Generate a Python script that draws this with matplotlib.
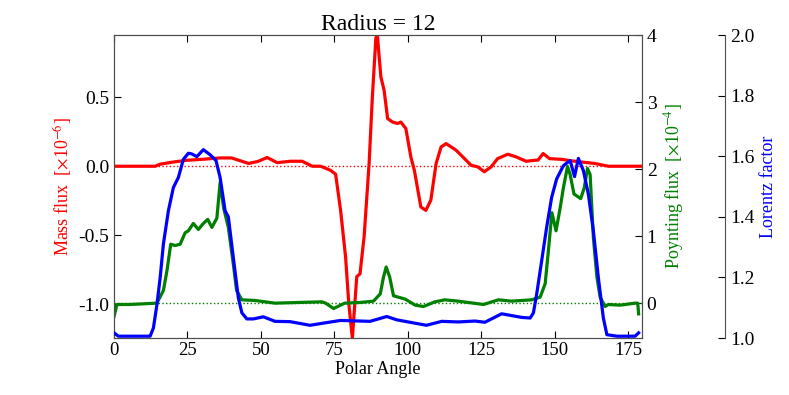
import numpy as np
import matplotlib
matplotlib.use("Agg")
import matplotlib.pyplot as plt

plt.rcParams['font.family'] = 'serif'
plt.rcParams['font.serif'] = ['Liberation Serif', 'DejaVu Serif']
plt.rcParams['mathtext.fontset'] = 'stix'

# mass flux (x1e-6) vs polar angle
mass_x = [0, 5, 10, 14, 15.7, 20, 24.8, 30, 36, 40, 45.8, 49, 52.1, 55.5, 60, 64,
          67.5, 70.3, 73.7, 75.4, 77.1, 78.8, 79.9, 81.1, 82.6, 83.7, 85.1, 86.8,
          87.9, 89.1, 89.6, 90.8, 91.9, 93.1, 94.8, 96.5, 97.6, 99.3, 101, 102.2,
          104.4, 106.1, 107.8, 109.6, 111.3, 113, 116.4, 118.7, 121.5, 123.8, 126,
          128.3, 130.5, 134, 136.8, 140.2, 143.1, 144.3, 146, 148.2, 152.2, 156.8,
          163.6, 168.2, 173, 179.6]
mass_y = [0.0, 0.0, 0.0, 0.0, 0.015, 0.03, 0.043, 0.05, 0.06, 0.06, 0.02, 0.035,
          0.063, 0.026, 0.036, 0.036, 0.0, 0.0, -0.03, -0.058, -0.32, -0.66, -1.0,
          -1.245, -0.80, -0.78, -0.51, 0.02, 0.50, 0.93, 0.95, 0.647, 0.55, 0.345,
          0.32, 0.31, 0.32, 0.273, 0.067, -0.03, -0.295, -0.32, -0.246, 0.02, 0.14,
          0.164, 0.116, 0.067, 0.007, -0.005, -0.04, -0.005, 0.055, 0.087, 0.068,
          0.036, 0.043, 0.045, 0.092, 0.055, 0.05, 0.036, 0.02, 0.0, 0.0, 0.0]

# poynting flux (x1e-4)
poy_x = [0, 1, 5, 10, 14.6, 16.8, 18, 19.3, 20.8, 22.5, 24.2, 25.3, 27, 28.7, 30.4,
         31.9, 33.3, 35, 36.1, 37.3, 38.9, 40.6, 41.7, 43.5, 48, 54.8, 62.7, 70.7,
         72, 74.7, 78.5, 83.7, 88.3, 90.6, 91.7, 92.6, 93.8, 95.1, 99.1, 102.5,
         105.3, 109.2, 112.6, 117.1, 125.7, 130.8, 135.3, 142.1, 145, 146.7, 147.9,
         149, 150.4, 151.8, 152.9, 154.3, 155.2, 156.5, 158.8, 160, 161.1, 162,
         163.1, 164.3, 165.4, 167.1, 168.2, 172.2, 177.3, 178.2, 178.5]
poy_y = [-0.2, -0.02, -0.02, -0.01, 0.0, 0.19, 0.48, 0.88, 0.86, 0.88, 1.05, 1.08,
         1.19, 1.10, 1.19, 1.25, 1.13, 1.27, 1.80, 1.42, 1.13, 0.58, 0.19, 0.05,
         0.04, 0.0, 0.01, 0.02, 0.0, -0.08, 0.0, 0.01, 0.03, 0.14, 0.39, 0.54, 0.39,
         0.11, 0.06, -0.03, -0.05, 0.02, 0.05, 0.03, -0.02, 0.05, 0.03, 0.05, 0.09,
         0.29, 0.83, 1.35, 1.08, 1.42, 1.72, 2.04, 1.92, 1.63, 1.56, 1.72, 2.01,
         1.92, 0.98, 0.39, 0.09, -0.05, -0.02, -0.03, 0.0, 0.0, -0.16]

# lorentz factor
lor_x = [0, 1.5, 5, 10, 12.3, 13.4, 14.6, 15.7, 16.8, 18.5, 20.2, 21.9, 23.6, 25.3,
         26.4, 28.2, 30.4, 32.7, 34.7, 36.1, 37.8, 38.9, 40.6, 42.3, 43.5, 45.2,
         47.4, 50.8, 54.8, 59.9, 66.7, 71.8, 77.1, 87.1, 92.8, 96.2, 101.8, 106.3,
         111.5, 117.2, 122.8, 126.2, 131.9, 138.7, 141.6, 142.7, 143.8, 145.5,
         147.2, 148.9, 150.6, 152.9, 155.2, 156.7, 158, 159.7, 161.4, 163.1, 164.8,
         166.5, 167.7, 171.1, 177.3, 178.5]
lor_y = [1.017, 1.006, 1.006, 1.006, 1.006, 1.033, 1.11, 1.199, 1.31, 1.42, 1.497,
         1.53, 1.59, 1.61, 1.608, 1.599, 1.622, 1.605, 1.586, 1.53, 1.42, 1.40,
         1.265, 1.133, 1.083, 1.063, 1.063, 1.07, 1.055, 1.054, 1.042, 1.05, 1.058,
         1.055, 1.071, 1.06, 1.05, 1.042, 1.055, 1.053, 1.056, 1.052, 1.08, 1.068,
         1.066, 1.083, 1.144, 1.254, 1.365, 1.464, 1.525, 1.569, 1.586, 1.533,
         1.593, 1.553, 1.475, 1.354, 1.199, 1.066, 1.011, 1.006, 1.006, 1.017]

fig = plt.figure(figsize=(7.89, 3.95), dpi=100)
ax = fig.add_axes([0.1445, 0.1443, 0.669, 0.7667])
ax2 = ax.twinx()
ax3 = ax.twinx()
ax3.spines['right'].set_position(('axes', 1.158))

ax.plot(mass_x, mass_y, color='r', lw=2.3)
ax.axhline(0, color='r', ls=':', lw=1)
ax2.plot(poy_x, poy_y, color='g', lw=2.3)
ax2.axhline(0, color='g', ls=':', lw=1)
ax3.plot(lor_x, lor_y, color='b', lw=2.3)

ax.set_xlim(0, 179.6)
ax.set_ylim(min(mass_y), max(mass_y))
ax2.set_ylim(-0.52, 4)
ax3.set_ylim(1.0, 2.0)

ax.set_xticks([0, 25, 50, 75, 100, 125, 150, 175])
ax.set_yticks([-1.0, -0.5, 0.0, 0.5])
ax2.set_yticks([0, 1, 2, 3, 4])
ax3.set_yticks([1.0, 1.2, 1.4, 1.6, 1.8, 2.0])
ax.yaxis.set_major_formatter(matplotlib.ticker.FormatStrFormatter('%.1f'))
ax3.yaxis.set_major_formatter(matplotlib.ticker.FormatStrFormatter('%.1f'))

ax.tick_params(axis='x', direction='in', top=True, length=5, labelsize=13.5, pad=3)
ax.tick_params(axis='y', direction='in', length=5, labelsize=14)
ax2.tick_params(axis='y', direction='in', length=5, labelsize=14)
ax3.tick_params(axis='y', direction='in', length=5, labelsize=14)

for a in (ax, ax2, ax3):
    for s in a.spines.values():
        s.set_color('0.3')
ax3.spines['left'].set_visible(False)
ax3.spines['top'].set_visible(False)
ax3.spines['bottom'].set_visible(False)

ax.set_xlabel('Polar Angle', fontsize=13, labelpad=1)
ax.set_ylabel(r'Mass flux  [$\times$10$^{-6}$]', color='r', fontsize=13, labelpad=2)
ax2.set_ylabel(r'Poynting flux  [$\times$10$^{-4}$]', color='g', fontsize=13)
ax3.set_ylabel('Lorentz factor', color='b', fontsize=13)
ax.set_title('Radius = 12', fontsize=17, pad=2)

fig.savefig('out.png', dpi=100)
